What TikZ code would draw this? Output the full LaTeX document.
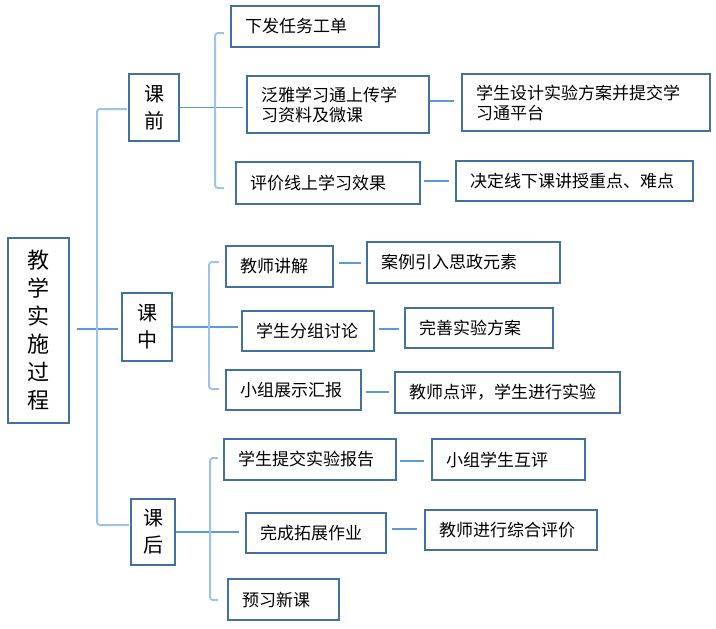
\documentclass[tikz,border=0pt]{standalone}
\usepackage{fontspec}
\newfontfamily\cjk{Noto Sans CJK SC}
\usetikzlibrary{calc}
\definecolor{boxc}{HTML}{41719C}
\definecolor{linec}{HTML}{5B9BD5}
\definecolor{brac}{HTML}{9DC3E6}
\tikzset{
  basebox/.style={draw=boxc, line width=2.2pt, fill=white, inner ysep=0pt, text=black},
  leafbox/.style={basebox, inner xsep=14pt, align=left, font=\cjk\fontsize{17pt}{20pt}\selectfont},
  stagebox/.style={basebox, inner xsep=0pt, align=center, font=\cjk\fontsize{20pt}{27pt}\selectfont},
  rootbox/.style={basebox, inner xsep=0pt, align=center, font=\cjk\fontsize{22pt}{28pt}\selectfont},
  conn/.style={draw=linec, line width=1.2pt},
  bracket/.style={draw=brac, line width=2pt, rounded corners=3pt},
}
\newcommand{\leafbx}[6]{%
  \pgfmathsetmacro{\bxcx}{(#2+#4)/2}\pgfmathsetmacro{\bxcy}{(#3+#5)/2}%
  \pgfmathsetmacro{\bxw}{#4-#2}\pgfmathsetmacro{\bxh}{#5-#3}\pgfmathsetmacro{\bxtw}{#4-#2-28}%
  \node[leafbox, minimum width=\bxw pt, minimum height=\bxh pt, text width=\bxtw pt] (#1) at (\bxcx,\bxcy) {#6};}
\newcommand{\stagebx}[7]{%
  \pgfmathsetmacro{\bxcx}{(#2+#4)/2}\pgfmathsetmacro{\bxcy}{(#3+#5)/2}%
  \pgfmathsetmacro{\bxw}{#4-#2}\pgfmathsetmacro{\bxh}{#5-#3}%
  \node[#7, minimum width=\bxw pt, minimum height=\bxh pt] (#1) at (\bxcx,\bxcy) {#6};}
\begin{document}
\begin{tikzpicture}[x=1pt,y=-1pt]
\useasboundingbox (0,0) rectangle (716,629);
% root and stages
\stagebx{root}{8}{238}{69}{423}{教\\学\\实\\施\\过\\程}{rootbox}
\stagebx{qian}{129}{74}{179}{141}{课\\前}{stagebox}
\stagebx{zhong}{122}{293}{172}{361}{课\\中}{stagebox}
\stagebx{hou}{131}{499}{175}{565}{课\\后}{stagebox}
% stage 1
\leafbx{a1}{231}{6}{379}{47}{下发任务工单}
\leafbx{a2}{247}{76}{429}{133}{泛雅学习通上传学\\习资料及微课}
\leafbx{a2b}{462}{74}{710}{131}{学生设计实验方案并提交学\\习通平台}
\leafbx{a3}{236}{162}{420}{204}{评价线上学习效果}
\leafbx{a3b}{456}{161}{693}{201}{决定线下课讲授重点、难点}
% stage 2
\leafbx{b1}{226}{246}{333}{287}{教师讲解}
\leafbx{b1b}{367}{242}{560}{283}{案例引入思政元素}
\leafbx{b2}{242}{311}{374}{351}{学生分组讨论}
\leafbx{b2b}{405}{308}{553}{348}{完善实验方案}
\leafbx{b3}{226}{370}{361}{410}{小组展示汇报}
\leafbx{b3b}{395}{372}{620}{413}{教师点评，学生进行实验}
% stage 3
\leafbx{c1}{224}{439}{396}{480}{学生提交实验报告}
\leafbx{c1b}{432}{439}{585}{480}{小组学生互评}
\leafbx{c2}{246}{513}{386}{553}{完成拓展作业}
\leafbx{c2b}{425}{510}{597}{550}{教师进行综合评价}
\leafbx{c3}{228}{579}{339}{620}{预习新课}
% straight connectors
\draw[conn] ([xshift=7pt]root.east |- 0,329) -- ([xshift=-3pt]zhong.west |- 0,329);
\draw[conn] (qian.east) -- ([xshift=-3pt]a2.west |- qian.east);
\draw[conn] (a2.east |- 0,101) -- ([xshift=-7pt]a2b.west |- 0,101);
\draw[conn] ([xshift=3pt]a3.east |- 0,181) -- ([xshift=-6pt]a3b.west |- 0,181);
\draw[conn] (zhong.east) -- ([xshift=-3pt]b2.west |- zhong.east);
\draw[conn] ([xshift=5pt]b1.east |- 0,263) -- ([xshift=-5pt]b1b.west |- 0,263);
\draw[conn] ([xshift=4pt]b2.east |- 0,329) -- ([xshift=-5pt]b2b.west |- 0,329);
\draw[conn] ([xshift=4pt]b3.east |- 0,392) -- ([xshift=-5pt]b3b.west |- 0,392);
\draw[conn] (hou.east) -- ([xshift=-6pt]c2.west |- hou.east);
\draw[conn] ([xshift=3pt]c1.east |- 0,461) -- ([xshift=-7pt]c1b.west |- 0,461);
\draw[conn] ([xshift=5pt]c2.east |- 0,529) -- ([xshift=-7pt]c2b.west |- 0,529);
% brackets
\coordinate (rb1) at ([yshift=-1.5pt]qian.west);
\coordinate (rb3) at ([yshift=7pt]hou.west);
\draw[bracket] ([xshift=-1pt]rb1) -- (97,0 |- rb1) -- (97,0 |- rb3) -- ([xshift=-1pt]rb3);
\draw[bracket] ([xshift=-6pt]a1.west |- 0,33) -- (215,33) -- (215,188) -- ([xshift=-11pt]a3.west |- 0,188);
\draw[bracket] ([xshift=-6pt]b1.west |- 0,262) -- (209,262) -- (209,389) -- ([xshift=-6pt]b3.west |- 0,389);
\draw[bracket] ([xshift=-5pt]c1.west |- 0,458) -- (210,458) -- (210,600) -- ([xshift=-9pt]c3.west |- 0,600);
\end{tikzpicture}
\end{document}
